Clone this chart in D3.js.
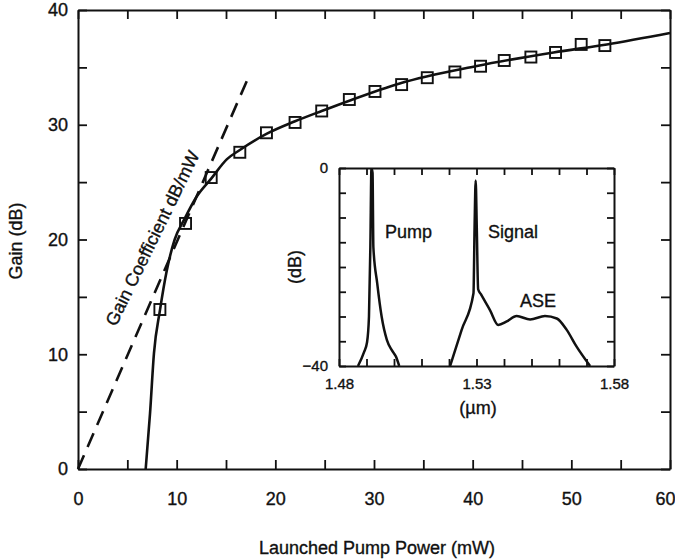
<!DOCTYPE html>
<html>
<head>
<meta charset="utf-8">
<script src="https://cdn.jsdelivr.net/npm/d3@7"></script>
<style>
  html, body { margin: 0; padding: 0; background: #fff; }
  svg { display: block; font-family: "Liberation Sans", Arial, Helvetica, sans-serif; }
  .axis text, .label { fill: #111; stroke: #111; stroke-width: 0.35px; }
  .axis path, .axis line { stroke: #111; }
</style>
</head>
<body>
<svg id="chart" width="675" height="559"></svg>
<script>
// Measured gain versus launched pump power
const measPower = [8.3, 10.9, 13.5, 16.4, 19.1, 22.0, 24.7, 27.5, 30.1, 32.8, 35.4, 38.2, 40.8, 43.2, 45.9, 48.4, 51.0, 53.4];
const measGain  = [13.9, 21.4, 25.4, 27.6, 29.3, 30.2, 31.2, 32.2, 32.9, 33.5, 34.1, 34.6, 35.1, 35.6, 35.9, 36.3, 37.0, 36.9];

// Fitted gain curve
const fitPower = [6.86, 7.3, 7.7, 8.3, 9.0, 9.8, 10.8, 12.0, 13.5, 15.1, 16.4, 19.1, 22.0, 24.7, 27.5, 32.6, 40.3, 48.2, 53.6, 60];
const fitGain  = [0, 4.85, 10.1, 13.8, 17.3, 20.0, 21.8, 23.7, 25.3, 27.0, 27.8, 29.2, 30.3, 31.2, 32.1, 33.6, 35.1, 36.3, 37.0, 38.0];

// Small-signal gain coefficient tangent (dB/mW)
const tangentPower = [0, 17.1];
const tangentGain  = [0, 33.8];

// Main axis ticks
const xMajorTicks = [0, 10, 20, 30, 40, 50, 60];
const xMinorTicks = [0, 5, 10, 15, 20, 25, 30, 35, 40, 45, 50, 55, 60];
const yMajorTicks = [0, 10, 20, 30, 40];
const yMinorTicks = [0, 5, 10, 15, 20, 25, 30, 35, 40];

// Inset optical spectrum: pump line
const pumpWl = [1.4869, 1.4891, 1.4902, 1.4909, 1.4914, 1.4918, 1.4922, 1.4925, 1.4939, 1.4955, 1.4974, 1.4992, 1.5007, 1.5019];
const pumpDb = [-40, -37.2, -35.2, -30, -16, 0, -1, -16, -23.3, -30, -34.7, -36.8, -38.1, -40];

// Inset optical spectrum: signal line with ASE
const sigWl = [1.5204, 1.5246, 1.5289, 1.5293, 1.5297, 1.5301, 1.5306, 1.5316, 1.5349, 1.5379, 1.5410, 1.5446, 1.5495, 1.5549, 1.5592, 1.5628, 1.5664, 1.5713];
const sigDb = [-40, -32.7, -25.3, -12, -2.5, -12, -24.5, -25.5, -28.7, -31.7, -31.0, -29.9, -30.6, -29.9, -30.4, -32.7, -36.1, -40];

// Inset ticks
const wlTicks = [1.48, 1.49, 1.50, 1.51, 1.52, 1.53, 1.54, 1.55, 1.56, 1.57, 1.58];
const wlLabels = [1.48, 1.53, 1.58];
const dbTicks = [-40, -35, -30, -25, -20, -15, -10, -5, 0];
const dbLabels = [-40, 0];

const ink = "#111";
const svg = d3.select("#chart");

// ---------- main panel ----------
const x = d3.scaleLinear().domain([0, 60]).range([78, 670]);
const y = d3.scaleLinear().domain([0, 40]).range([469, 10]);
const [x0, x1] = x.range();
const [y0, y1] = y.range();

function styleAxis(g, fontSize) {
  g.attr("class", "axis")
   .attr("font-family", null)
   .attr("font-size", fontSize);
  g.select(".domain").attr("stroke-width", 2);
  g.selectAll(".tick line").attr("stroke-width", 1.8);
}

// minor (unlabelled) ticks on all four sides
svg.append("g").attr("transform", `translate(0,${y0})`)
  .call(d3.axisBottom(x).tickValues(xMinorTicks).tickSize(-9).tickSizeOuter(0).tickFormat(""))
  .call(g => styleAxis(g, 18));
svg.append("g").attr("transform", `translate(0,${y1})`)
  .call(d3.axisTop(x).tickValues(xMinorTicks).tickSize(-9).tickSizeOuter(0).tickFormat(""))
  .call(g => styleAxis(g, 18));
svg.append("g").attr("transform", `translate(${x0},0)`)
  .call(d3.axisLeft(y).tickValues(yMinorTicks).tickSize(-9).tickSizeOuter(0).tickFormat(""))
  .call(g => styleAxis(g, 18));
svg.append("g").attr("transform", `translate(${x1},0)`)
  .call(d3.axisRight(y).tickValues(yMinorTicks).tickSize(-9).tickSizeOuter(0).tickFormat(""))
  .call(g => styleAxis(g, 18));

// labelled ticks
svg.append("g").attr("transform", `translate(0,${y0})`)
  .call(d3.axisBottom(x).tickValues(xMajorTicks).tickSize(0).tickSizeOuter(0).tickPadding(23).tickFormat(d3.format("d")))
  .call(g => {
    styleAxis(g, 18);
    g.select(".domain").remove();
    // keep the last label inside the page edge
    g.selectAll(".tick text").filter(d => d === 60).attr("dx", -5);
  });
svg.append("g").attr("transform", `translate(${x0},0)`)
  .call(d3.axisLeft(y).tickValues(yMajorTicks).tickSize(0).tickSizeOuter(0).tickPadding(10).tickFormat(d3.format("d")))
  .call(g => { styleAxis(g, 18); g.select(".domain").remove(); });

// axis titles
svg.append("text").attr("class", "label")
  .attr("x", (x0 + x1) / 2 + 3).attr("y", 554)
  .attr("text-anchor", "middle").attr("font-size", 18)
  .text("Launched Pump Power (mW)");
svg.append("text").attr("class", "label")
  .attr("transform", `translate(22,241) rotate(-90)`)
  .attr("text-anchor", "middle").attr("font-size", 18)
  .text("Gain (dB)");

// tangent line
svg.append("path")
  .datum(d3.zip(tangentPower, tangentGain))
  .attr("fill", "none").attr("stroke", ink).attr("stroke-width", 2.6)
  .attr("stroke-dasharray", "15,9")
  .attr("d", d3.line().x(d => x(d[0])).y(d => y(d[1])));

svg.append("text").attr("class", "label")
  .attr("transform", `translate(158,241) rotate(-64)`)
  .attr("text-anchor", "middle").attr("font-size", 18)
  .text("Gain Coefficient dB/mW");

// fitted gain curve
svg.append("path")
  .datum(d3.zip(fitPower, fitGain))
  .attr("fill", "none").attr("stroke", ink).attr("stroke-width", 2.6)
  .attr("d", d3.line().curve(d3.curveMonotoneX).x(d => x(d[0])).y(d => y(d[1])));

// measured points
const sq = 11;
svg.append("g").selectAll("rect")
  .data(d3.zip(measPower, measGain))
  .join("rect")
  .attr("x", d => x(d[0]) - sq / 2).attr("y", d => y(d[1]) - sq / 2)
  .attr("width", sq).attr("height", sq)
  .attr("fill", "none").attr("stroke", ink).attr("stroke-width", 1.9);

// ---------- inset spectrum ----------
const ix = d3.scaleLinear().domain([1.48, 1.58]).range([339, 614]);
const iy = d3.scaleLinear().domain([-40, 0]).range([366, 168]);
const [ix0, ix1] = ix.range();
const [iy0, iy1] = iy.range();

svg.append("rect")
  .attr("x", ix0).attr("y", iy1).attr("width", ix1 - ix0).attr("height", iy0 - iy1)
  .attr("fill", "#fff");

svg.append("clipPath").attr("id", "inset-clip")
  .append("rect")
  .attr("x", ix0).attr("y", iy1).attr("width", ix1 - ix0).attr("height", iy0 - iy1);

const specLine = d3.line().curve(d3.curveMonotoneX).x(d => ix(d[0])).y(d => iy(d[1]));
const spec = svg.append("g").attr("clip-path", "url(#inset-clip)");
spec.append("path").datum(d3.zip(pumpWl, pumpDb))
  .attr("fill", "none").attr("stroke", ink).attr("stroke-width", 2.5).attr("stroke-linejoin", "round")
  .attr("d", specLine);
spec.append("path").datum(d3.zip(sigWl, sigDb))
  .attr("fill", "none").attr("stroke", ink).attr("stroke-width", 2.5).attr("stroke-linejoin", "round")
  .attr("d", specLine);

svg.append("g").attr("transform", `translate(0,${iy0})`)
  .call(d3.axisBottom(ix).tickValues(wlTicks).tickSize(-7).tickSizeOuter(0).tickFormat(""))
  .call(g => styleAxis(g, 15));
svg.append("g").attr("transform", `translate(0,${iy1})`)
  .call(d3.axisTop(ix).tickValues(wlTicks).tickSize(-7).tickSizeOuter(0).tickFormat(""))
  .call(g => styleAxis(g, 15));
svg.append("g").attr("transform", `translate(${ix0},0)`)
  .call(d3.axisLeft(iy).tickValues(dbTicks).tickSize(-7).tickSizeOuter(0).tickFormat(""))
  .call(g => styleAxis(g, 15));
svg.append("g").attr("transform", `translate(${ix1},0)`)
  .call(d3.axisRight(iy).tickValues(dbTicks).tickSize(-7).tickSizeOuter(0).tickFormat(""))
  .call(g => styleAxis(g, 15));

svg.append("g").attr("transform", `translate(0,${iy0})`)
  .call(d3.axisBottom(ix).tickValues(wlLabels).tickSize(0).tickPadding(12).tickFormat(d3.format(".2f")))
  .call(g => { styleAxis(g, 15); g.select(".domain").remove(); });
svg.append("g").attr("transform", `translate(${ix0},0)`)
  .call(d3.axisLeft(iy).tickValues(dbLabels).tickSize(0).tickPadding(11).tickFormat(d3.format("d")))
  .call(g => { styleAxis(g, 15); g.select(".domain").remove(); });

svg.append("text").attr("class", "label")
  .attr("x", 478).attr("y", 414)
  .attr("text-anchor", "middle").attr("font-size", 18)
  .text("(µm)");
svg.append("text").attr("class", "label")
  .attr("transform", `translate(301,267) rotate(-90)`)
  .attr("text-anchor", "middle").attr("font-size", 18)
  .text("(dB)");

// peak annotations
svg.append("text").attr("class", "label").attr("x", 385).attr("y", 238)
  .attr("font-size", 18).text("Pump");
svg.append("text").attr("class", "label").attr("x", 488).attr("y", 238)
  .attr("font-size", 18).text("Signal");
svg.append("text").attr("class", "label").attr("x", 520).attr("y", 307)
  .attr("font-size", 18).text("ASE");
</script>
</body>
</html>
